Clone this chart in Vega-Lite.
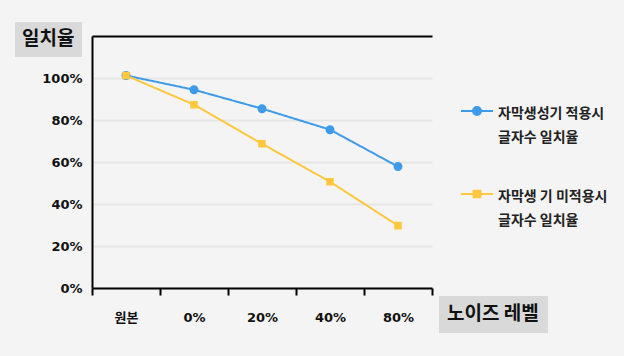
{
  "$schema": "https://vega.github.io/schema/vega-lite/v6.json",
  "width": 340,
  "height": 252,
  "autosize": {"type": "none"},
  "padding": {"left": 92, "top": 36, "right": 192, "bottom": 68},
  "background": "#f4f4f4",
  "config": {
    "view": {"stroke": null},
    "font": "Noto Sans CJK KR"
  },
  "data": {
    "values": [
      {"noise": "원본", "series": "자막생성기 적용시|글자수 일치율", "value": 101.2},
      {"noise": "0%", "series": "자막생성기 적용시|글자수 일치율", "value": 94.4},
      {"noise": "20%", "series": "자막생성기 적용시|글자수 일치율", "value": 85.4},
      {"noise": "40%", "series": "자막생성기 적용시|글자수 일치율", "value": 75.4},
      {"noise": "80%", "series": "자막생성기 적용시|글자수 일치율", "value": 57.8},
      {"noise": "원본", "series": "자막생 기 미적용시|글자수 일치율", "value": 101.2},
      {"noise": "0%", "series": "자막생 기 미적용시|글자수 일치율", "value": 87.3},
      {"noise": "20%", "series": "자막생 기 미적용시|글자수 일치율", "value": 68.7},
      {"noise": "40%", "series": "자막생 기 미적용시|글자수 일치율", "value": 50.6},
      {"noise": "80%", "series": "자막생 기 미적용시|글자수 일치율", "value": 29.7}
    ]
  },
  "layer": [
    {
      "mark": {"type": "line", "strokeWidth": 2},
      "encoding": {
        "x": {
          "field": "noise", "type": "nominal", "sort": ["원본", "0%", "20%", "40%", "80%"],
          "scale": {"type": "band", "paddingInner": 0, "paddingOuter": 0},
          "axis": {"orient": "bottom", "title": null, "tickBand": "extent", "ticks": true, "tickSize": 7, "tickColor": "#000", "tickWidth": 2, "domainColor": "#000", "domainWidth": 2, "labelPadding": 16, "labelFont": "DejaVu Sans, Noto Sans CJK KR", "labelFontSize": 13, "labelFontWeight": "bold", "labelColor": "#111", "labelAngle": 0, "grid": false}
        },
        "y": {
          "field": "value", "type": "quantitative",
          "scale": {"domain": [0, 120], "nice": false},
          "axis": {"values": [0, 20, 40, 60, 80, 100], "title": null, "grid": true, "gridColor": "#e6e6e6", "gridWidth": 2, "ticks": false, "domainColor": "#000", "domainWidth": 2, "labelExpr": "datum.value + '%'", "labelPadding": 10, "labelFont": "DejaVu Sans", "labelFontSize": 13, "labelFontWeight": "bold", "labelColor": "#111"}
        },
        "color": {
          "field": "series", "type": "nominal",
          "scale": {"domain": ["자막생성기 적용시|글자수 일치율", "자막생 기 미적용시|글자수 일치율"], "range": ["#3d9be9", "#fec73d"]},
          "legend": {"title": null, "orient": "none", "legendX": 368, "legendY": 58, "labelExpr": "split(datum.label, '|')", "labelFontSize": 14, "labelFontWeight": "bold", "labelColor": "#222", "labelLimit": 300, "symbolSize": 1024, "symbolStrokeWidth": 2, "labelOffset": 4, "rowPadding": 32, "padding": 0, "encode": {"labels": {"update": {"lineHeight": {"value": 24}, "dy": {"value": 3}}}}}
        },
        "strokeDash": {
          "datum": "노이즈 레벨", "type": "nominal",
          "scale": {"range": [[1, 0]]},
          "legend": {"title": null, "orient": "none", "legendX": 347, "legendY": 260, "fillColor": "#d9d9d9", "padding": 8.5, "labelFontSize": 19, "labelFontWeight": "bold", "labelColor": "#111", "labelOffset": -19.5, "symbolSize": 0.001, "symbolOpacity": 0, "symbolStrokeWidth": 0.001, "labelLimit": 300}
        },
        "opacity": {
          "datum": "일치율", "type": "nominal",
          "scale": {"range": [1, 1]},
          "legend": {"title": null, "orient": "none", "legendX": -77, "legendY": -14, "fillColor": "#d9d9d9", "padding": 7.5, "labelFontSize": 19, "labelFontWeight": "bold", "labelColor": "#111", "labelOffset": -19.5, "symbolSize": 0.001, "symbolOpacity": 0, "symbolStrokeWidth": 0.001, "labelLimit": 300}
        }
      }
    },
    {
      "mark": {"type": "point", "filled": true, "opacity": 1, "size": 1296, "strokeWidth": 0},
      "encoding": {
        "x": {
          "field": "noise", "type": "nominal", "sort": ["원본", "0%", "20%", "40%", "80%"],
          "scale": {"type": "band", "paddingInner": 0, "paddingOuter": 0},
          "axis": {"orient": "top", "title": null, "labels": false, "ticks": false, "domainColor": "#000", "domainWidth": 2, "grid": false}
        },
        "y": {
          "field": "value", "type": "quantitative",
          "scale": {"domain": [0, 120], "nice": false},
          "axis": {"values": [0, 20, 40, 60, 80, 100], "title": null, "grid": true, "gridColor": "#e6e6e6", "gridWidth": 2, "ticks": false, "domainColor": "#000", "domainWidth": 2, "labelExpr": "datum.value + '%'", "labelPadding": 10, "labelFont": "DejaVu Sans", "labelFontSize": 13, "labelFontWeight": "bold", "labelColor": "#111"}
        },
        "color": {
          "field": "series", "type": "nominal",
          "scale": {"domain": ["자막생성기 적용시|글자수 일치율", "자막생 기 미적용시|글자수 일치율"], "range": ["#3d9be9", "#fec73d"]},
          "legend": {"title": null, "orient": "none", "legendX": 368, "legendY": 58, "labelExpr": "split(datum.label, '|')", "labelFontSize": 14, "labelFontWeight": "bold", "labelColor": "#222", "labelLimit": 300, "symbolSize": 1024, "symbolStrokeWidth": 2, "labelOffset": 4, "rowPadding": 32, "padding": 0, "encode": {"labels": {"update": {"lineHeight": {"value": 24}, "dy": {"value": 3}}}}}
        },
        "stroke": {
          "field": "series", "type": "nominal",
          "scale": {"domain": ["자막생성기 적용시|글자수 일치율", "자막생 기 미적용시|글자수 일치율"], "range": ["#3d9be9", "#fec73d"]},
          "legend": {"title": null, "orient": "none", "legendX": 368, "legendY": 58, "labelExpr": "split(datum.label, '|')", "labelFontSize": 14, "labelFontWeight": "bold", "labelColor": "#222", "labelLimit": 300, "symbolSize": 1024, "symbolStrokeWidth": 2, "labelOffset": 4, "rowPadding": 32, "padding": 0, "encode": {"labels": {"update": {"lineHeight": {"value": 24}, "dy": {"value": 3}}}}}
        },
        "shape": {
          "field": "series", "type": "nominal",
          "scale": {"domain": ["자막생성기 적용시|글자수 일치율", "자막생 기 미적용시|글자수 일치율"], "range": ["M-1,0H-0.25M0.25,0H1M-0.25,0A0.25,0.25,0,1,0,0.25,0A0.25,0.25,0,1,0,-0.25,0Z", "M-1,0H-0.21M0.21,0H1M-0.21,-0.21H0.21V0.21H-0.21Z"]},
          "legend": {"title": null, "orient": "none", "legendX": 368, "legendY": 58, "labelExpr": "split(datum.label, '|')", "labelFontSize": 14, "labelFontWeight": "bold", "labelColor": "#222", "labelLimit": 300, "symbolSize": 1024, "symbolStrokeWidth": 2, "labelOffset": 4, "rowPadding": 32, "padding": 0, "encode": {"labels": {"update": {"lineHeight": {"value": 24}, "dy": {"value": 3}}}}}
        }
      }
    }
  ]
}
